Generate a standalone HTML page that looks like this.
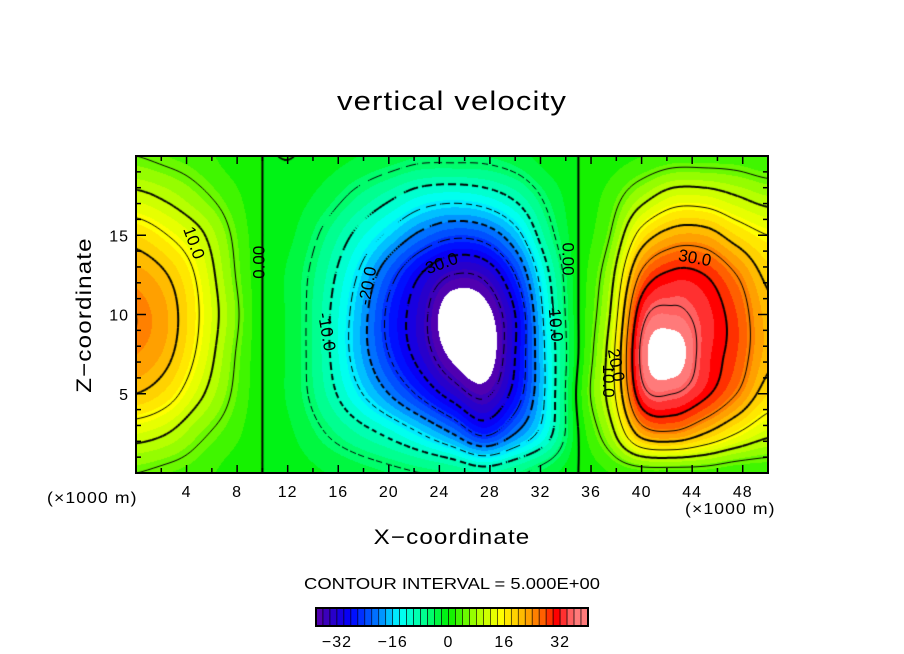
<!DOCTYPE html>
<html><head><meta charset="utf-8">
<style>
body{margin:0;background:#fff;width:904px;height:654px;position:relative;overflow:hidden;font-family:"Liberation Sans",sans-serif;color:#000}
.t{position:absolute;white-space:nowrap}
</style></head>
<body>
<div class="t" style="left:452px;top:86px;font-size:27px;transform:translateX(-50%) scaleX(1.15);letter-spacing:1px">vertical velocity</div>
<canvas id="plot" width="632" height="317" style="position:absolute;left:136px;top:156px"></canvas>
<svg id="axes" width="904" height="654" style="position:absolute;left:0;top:0"></svg>
<div class="t" style="left:85px;top:315px;font-size:21px;letter-spacing:1px;transform:translate(-50%,-50%) rotate(-90deg) scaleX(1.15)">Z−coordinate</div>
<div class="t" style="left:452px;top:526px;font-size:21px;letter-spacing:1px;transform:translateX(-50%) scaleX(1.15)">X−coordinate</div>
<div class="t" style="left:47px;top:490px;font-size:16px;letter-spacing:1px;transform-origin:0 0;transform:scaleX(1.1)">(×1000 m)</div>
<div class="t" style="left:685px;top:501px;font-size:16px;letter-spacing:1px;transform-origin:0 0;transform:scaleX(1.1)">(×1000 m)</div>
<div class="t" style="left:452px;top:576px;font-size:16px;transform:translateX(-50%) scaleX(1.15)">CONTOUR INTERVAL = 5.000E+00</div>
<script>
const xGrid=[0,2.5,5,7.5,10,12.5,15,17.5,20,22.5,25,27.5,30,32.5,35,37.5,40,42.5,45,47.5,50];
const zGrid=[0,2.5,5,7.5,10,12.5,15,17.5,20];
// each row: values along z (0..20) for given x column
const wCols=[
[5,12,20,24,25,23,18,11,5],
[4,10,17,21,22,20,15,9,4],
[3,6,11,14,15,14,11,6,3],
[1,3,5,6,7,6,5,3,1],
[0,0,0,0,0,0,0,0,0],
[-1,-2,-3,-3,-3,-3,-2,-1,0],
[-2,-5,-8,-9,-9,-8,-6,-3,-1],
[-3,-8,-14,-17,-17,-15,-11,-6,-2],
[-4,-11,-20,-25,-26,-23,-16,-9,-3],
[-5,-15,-26,-32,-33,-30,-21,-12,-4],
[-6,-20,-32,-39,-41,-35,-24,-13,-4],
[-8,-26,-36,-41,-40,-34,-23,-12,-4],
[-6,-20,-28,-30,-30,-25,-17,-9,-3],
[-3,-12,-14,-14,-13,-11,-7,-4,-1],
[0,0,1,0,0,0,0,0,0],
[2,8,12,12,10,8,5,3,1],
[3,22,33,36,33,26,17,8,2],
[3,24,35,40,36,31,22,12,3],
[3,20,31,33,33,30,22,12,3],
[2,15,25,28,28,25,18,10,3],
[2,11,18,21,21,19,15,8,2]];
const xTicks=[4,8,12,16,20,24,28,32,36,40,44,48];
const zTicks=[5,10,15];
const cbTicks=[-32,-16,0,16,32];
const contourLevels=[-35,-30,-25,-20,-15,-10,-5,0,5,10,15,20,25,30,35];

const X0=136,X1=768,Y0=156,Y1=473;
const px=x=>X0+x*(X1-X0)/50, pz=z=>Y1-z*(Y1-Y0)/20;
function cr(p0,p1,p2,p3,t){return 0.5*((2*p1)+(-p0+p2)*t+(2*p0-5*p1+4*p2-p3)*t*t+(-p0+3*p1-3*p2+p3)*t*t*t);}
function G(i,j){i=Math.max(0,Math.min(xGrid.length-1,i));j=Math.max(0,Math.min(zGrid.length-1,j));return wCols[i][j];}
function field(x,z){
  let i=Math.min(xGrid.length-2,Math.max(0,Math.floor(x/2.5)));
  let j=Math.min(zGrid.length-2,Math.max(0,Math.floor(z/2.5)));
  let u=(x-xGrid[i])/2.5,v=(z-zGrid[j])/2.5;
  const r=[];
  for(let k=-1;k<=2;k++)r.push(cr(G(i-1,j+k),G(i,j+k),G(i+1,j+k),G(i+2,j+k),u));
  return cr(r[0],r[1],r[2],r[3],v);
}
const stops=[[-40,[112,0,160]],[-34,[48,0,192]],[-28,[0,0,255]],[-20,[0,128,255]],[-14,[0,255,255]],[-6,[0,255,128]],[0,[0,240,0]],[8,[170,255,0]],[15,[255,255,0]],[22,[255,176,0]],[27,[255,96,0]],[31,[255,0,0]],[35,[255,96,96]],[40,[255,160,160]]];
function col(v){
  if(v<-38||v>38)return [255,255,255];
  v=Math.floor(v/2)*2+1;
  for(let k=0;k<stops.length-1;k++){
    if(v<=stops[k+1][0]){const t=(v-stops[k][0])/(stops[k+1][0]-stops[k][0]);
      return stops[k][1].map((c,n)=>Math.round(c+(stops[k+1][1][n]-c)*t));}
  }
  return stops[stops.length-1][1];
}
const cv=document.getElementById('plot'),ctx=cv.getContext('2d');
const W=cv.width,H=cv.height,img=ctx.createImageData(W,H);
for(let y=0;y<H;y++)for(let x=0;x<W;x++){
  const v=field(x*50/W,(H-y)*20/H),c=col(v),o=(y*W+x)*4;
  img.data[o]=c[0];img.data[o+1]=c[1];img.data[o+2]=c[2];img.data[o+3]=255;}
ctx.putImageData(img,0,0);
const S=2,nx=Math.ceil(W/S),ny=Math.ceil(H/S);
const F=[];for(let i=0;i<=nx;i++){F[i]=[];for(let j=0;j<=ny;j++)F[i][j]=field(i*S*50/W,(H-j*S)*20/H);}
contourLevels.forEach(L=>{
  ctx.strokeStyle='#000';ctx.lineWidth=(L%10===0)?2:1;
  for(let i=0;i<nx;i++)for(let j=0;j<ny;j++){
    const c=[[i,j],[i+1,j],[i+1,j+1],[i,j+1]],pts=[];
    for(let e=0;e<4;e++){const p=c[e],q=c[(e+1)%4];const a=F[p[0]][p[1]]-L,b=F[q[0]][q[1]]-L;
      if((a<0)!==(b<0)){const t=a/(a-b);pts.push([(p[0]+(q[0]-p[0])*t)*S,(p[1]+(q[1]-p[1])*t)*S]);}}
    if(pts.length>=2){
      if(L<0&&(Math.floor((i+j)/2)%3===0))continue;
      ctx.beginPath();ctx.moveTo(pts[0][0],pts[0][1]);ctx.lineTo(pts[1][0],pts[1][1]);
      if(pts.length===4){ctx.moveTo(pts[2][0],pts[2][1]);ctx.lineTo(pts[3][0],pts[3][1]);}
      ctx.stroke();}
  }
});
const svg=document.getElementById('axes'),NS='http://www.w3.org/2000/svg';
function mk(t,a,p){const e=document.createElementNS(NS,t);for(const k in a)e.setAttribute(k,a[k]);(p||svg).appendChild(e);return e;}
const frame=mk('rect',{x:X0,y:Y0,width:X1-X0,height:Y1-Y0,fill:'none',stroke:'#000','stroke-width':2});


for(let x=2;x<50;x+=2){const l=x%4===0?8:5;
  mk('line',{x1:px(x),x2:px(x),y1:Y1,y2:Y1-l,stroke:'#000','stroke-width':1.5});
  mk('line',{x1:px(x),x2:px(x),y1:Y0,y2:Y0+l,stroke:'#000','stroke-width':1.5});}
for(let z=1;z<20;z++){const l=z%5===0?10:5;
  mk('line',{x1:X0,x2:X0+l,y1:pz(z),y2:pz(z),stroke:'#000','stroke-width':1.5});
  mk('line',{x1:X1,x2:X1-l,y1:pz(z),y2:pz(z),stroke:'#000','stroke-width':1.5});}
xTicks.forEach(x=>{const t=mk('text',{x:px(x),y:497,'text-anchor':'middle','font-size':16,'font-family':'Liberation Sans','letter-spacing':1});t.textContent=x;
  
  });
zTicks.forEach(z=>{const t=mk('text',{x:129,y:pz(z)+6,'text-anchor':'end','font-size':16,'font-family':'Liberation Sans','letter-spacing':1});t.textContent=z;
  
  });
const labs=[[4.5,14.5,'10.0',70],[9.8,13.3,'0.00',-90],[15,8.9,'-10.0',80],[18.4,11.8,'-20.0',-80],[24,13.1,'-30.0',-20],[33.1,9.5,'-10.0',85],[34.1,13.5,'0.00',90],[37.3,5.8,'10.0',90],[37.9,6.8,'20.0',80],[44.2,13.5,'30.0',10]];
labs.forEach(a=>{const g=mk('text',{x:px(a[0]),y:pz(a[1]),'text-anchor':'middle','dominant-baseline':'middle','font-size':17,'font-family':'Liberation Sans',transform:`rotate(${a[3]} ${px(a[0])} ${pz(a[1])})`});g.textContent=a[2];
  
  });
const CB0=316,CB1=588,CBv0=-38,CBv1=40,cbx=v=>CB0+(v-CBv0)*(CB1-CB0)/(CBv1-CBv0);
for(let v=CBv0;v<CBv1;v+=2){const c=col(Math.min(v+1,37));
  const r=mk('rect',{x:cbx(v),y:608,width:cbx(v+2)-cbx(v),height:18,fill:`rgb(${c})`,stroke:'#000','stroke-width':0.6});
  
  }
mk('rect',{x:CB0,y:608,width:CB1-CB0,height:18,fill:'none',stroke:'#000','stroke-width':2});
cbTicks.forEach(v=>{const t=mk('text',{x:cbx(v),y:647,'text-anchor':'middle','font-size':16,'font-family':'Liberation Sans','letter-spacing':1});t.textContent=v<0?'−'+(-v):v;
  
  });
</script>
</body></html>
